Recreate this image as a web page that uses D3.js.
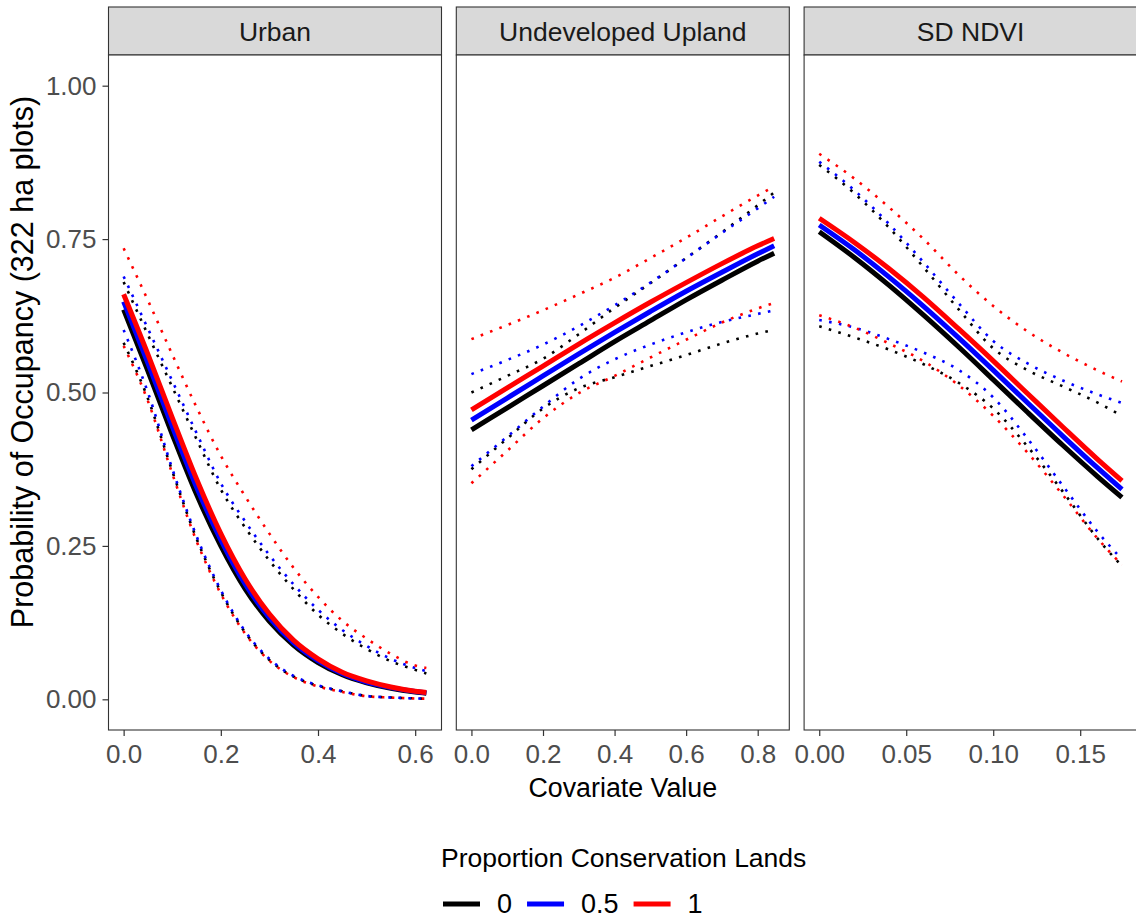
<!DOCTYPE html>
<html>
<head>
<meta charset="utf-8">
<script src="https://cdn.jsdelivr.net/npm/d3@7/dist/d3.min.js"></script>
<style>
  body { margin: 0; background: #ffffff; }
  svg { display: block; font-family: "Liberation Sans", Arial, sans-serif; }
</style>
</head>
<body>
<svg id="chart" width="1136" height="919"></svg>
<script>
// ---- Predicted occupancy, by covariate and proportion of conservation lands ----
const groups = ["0", "0.5", "1"];
const groupColors = ["#000000", "#0000FF", "#FF0000"];
const panelNames = ["Urban", "Undeveloped Upland", "SD NDVI"];
const yTicks = [0, 0.25, 0.5, 0.75, 1];

// Urban
const urbanX      = [0, 0.05, 0.10, 0.15, 0.20, 0.25, 0.30, 0.35, 0.40, 0.45, 0.50, 0.55, 0.60, 0.623];
const urbanTicks  = [0, 0.2, 0.4, 0.6];
const urbanFit0   = [0.635, 0.535, 0.432, 0.334, 0.250, 0.180, 0.127, 0.088, 0.060, 0.040, 0.027, 0.018, 0.012, 0.010];
const urbanFit05  = [0.648, 0.548, 0.445, 0.346, 0.260, 0.188, 0.133, 0.092, 0.063, 0.042, 0.028, 0.019, 0.0126, 0.0105];
const urbanFit1   = [0.660, 0.562, 0.459, 0.359, 0.270, 0.196, 0.139, 0.096, 0.066, 0.044, 0.030, 0.020, 0.013, 0.011];
const urbanLo0    = [0.581, 0.490, 0.372, 0.262, 0.175, 0.109, 0.064, 0.037, 0.022, 0.013, 0.0054, 0.003, 0.0015, 0.001];
const urbanLo05   = [0.602, 0.500, 0.376, 0.266, 0.178, 0.111, 0.066, 0.038, 0.023, 0.013, 0.0055, 0.003, 0.0015, 0.001];
const urbanLo1    = [0.576, 0.486, 0.368, 0.258, 0.172, 0.107, 0.063, 0.036, 0.021, 0.012, 0.005, 0.0028, 0.0014, 0.001];
const urbanHi0    = [0.680, 0.594, 0.509, 0.424, 0.342, 0.280, 0.226, 0.179, 0.138, 0.107, 0.082, 0.062, 0.048, 0.042];
const urbanHi05   = [0.689, 0.604, 0.519, 0.434, 0.352, 0.290, 0.235, 0.187, 0.146, 0.113, 0.087, 0.066, 0.051, 0.046];
const urbanHi1    = [0.735, 0.650, 0.562, 0.476, 0.397, 0.331, 0.270, 0.214, 0.167, 0.128, 0.099, 0.074, 0.055, 0.051];

// Undeveloped Upland
const uplandX     = [0, 0.1, 0.2, 0.3, 0.4, 0.5, 0.6, 0.7, 0.8, 0.846];
const uplandTicks = [0, 0.2, 0.4, 0.6, 0.8];
const uplandFit0  = [0.439, 0.475, 0.511, 0.547, 0.583, 0.617, 0.651, 0.683, 0.714, 0.727];
const uplandFit05 = [0.455, 0.491, 0.527, 0.563, 0.598, 0.632, 0.665, 0.696, 0.726, 0.739];
const uplandFit1  = [0.4715, 0.5075, 0.543, 0.579, 0.6135, 0.647, 0.679, 0.710, 0.739, 0.751];
const uplandLo0   = [0.375, 0.425, 0.474, 0.507, 0.525, 0.543, 0.561, 0.580, 0.596, 0.602];
const uplandLo05  = [0.380, 0.428, 0.477, 0.522, 0.554, 0.578, 0.598, 0.615, 0.628, 0.634];
const uplandLo1   = [0.352, 0.405, 0.458, 0.499, 0.527, 0.557, 0.586, 0.614, 0.637, 0.646];
const uplandHi0   = [0.500, 0.527, 0.555, 0.595, 0.638, 0.678, 0.719, 0.761, 0.805, 0.826];
const uplandHi05  = [0.530, 0.553, 0.578, 0.608, 0.642, 0.679, 0.719, 0.760, 0.800, 0.819];
const uplandHi1   = [0.587, 0.610, 0.634, 0.660, 0.687, 0.719, 0.752, 0.787, 0.821, 0.836];

// SD NDVI
const ndviX       = [0, 0.02, 0.04, 0.06, 0.08, 0.10, 0.12, 0.14, 0.16, 0.174];
const ndviTicks   = [0, 0.05, 0.10, 0.15];
const ndviFit0    = [0.762, 0.7205, 0.675, 0.626, 0.5745, 0.521, 0.467, 0.414, 0.363, 0.329];
const ndviFit05   = [0.773, 0.733, 0.6885, 0.6405, 0.5895, 0.5365, 0.4825, 0.429, 0.377, 0.342];
const ndviFit1    = [0.784, 0.745, 0.702, 0.655, 0.604, 0.5516, 0.4975, 0.4437, 0.391, 0.356];
const ndviLo0     = [0.608, 0.590, 0.570, 0.546, 0.516, 0.474, 0.411, 0.3385, 0.262, 0.217];
const ndviLo05    = [0.618, 0.606, 0.587, 0.565, 0.537, 0.492, 0.424, 0.348, 0.273, 0.228];
const ndviLo1     = [0.626, 0.606, 0.580, 0.551, 0.512, 0.462, 0.401, 0.333, 0.262, 0.219];
const ndviHi0     = [0.871, 0.825, 0.769, 0.704, 0.636, 0.572, 0.536, 0.510, 0.4835, 0.462];
const ndviHi05    = [0.876, 0.830, 0.775, 0.712, 0.646, 0.584, 0.547, 0.5196, 0.497, 0.483];
const ndviHi1     = [0.889, 0.849, 0.802, 0.750, 0.692, 0.641, 0.599, 0.565, 0.536, 0.518];

// Panel table assembled from the arrays above
const panels = [
  { name: panelNames[0], x: urbanX, ticks: urbanTicks, fmt: d3.format(".1f"),
    fit: [urbanFit0, urbanFit05, urbanFit1], lo: [urbanLo0, urbanLo05, urbanLo1], hi: [urbanHi0, urbanHi05, urbanHi1] },
  { name: panelNames[1], x: uplandX, ticks: uplandTicks, fmt: d3.format(".1f"),
    fit: [uplandFit0, uplandFit05, uplandFit1], lo: [uplandLo0, uplandLo05, uplandLo1], hi: [uplandHi0, uplandHi05, uplandHi1] },
  { name: panelNames[2], x: ndviX, ticks: ndviTicks, fmt: d3.format(".2f"),
    fit: [ndviFit0, ndviFit05, ndviFit1], lo: [ndviLo0, ndviLo05, ndviLo1], hi: [ndviHi0, ndviHi05, ndviHi1] }
];

// ---- Layout ----
const svg = d3.select("#chart");
const stripTop = 7, panelTop = 55, panelBottom = 730;
const panelLeft = 108.5, panelW = 333, panelGap = 14.8;
const frame = "#333333";
const tickFont = 26, titleFont = 26.8, stripFont = 26.5;

const y = d3.scaleLinear().domain([-0.05, 1.05]).range([panelBottom, panelTop]);

panels.forEach((p, i) => {
  const left = panelLeft + i * (panelW + panelGap);
  const xMax = d3.max(p.x), xMin = d3.min(p.x);
  const pad = (xMax - xMin) * 0.05;
  const x = d3.scaleLinear().domain([xMin - pad, xMax + pad]).range([left, left + panelW]);

  const g = svg.append("g");

  // strip
  g.append("rect")
    .attr("x", left).attr("y", stripTop)
    .attr("width", panelW).attr("height", panelTop - stripTop)
    .attr("fill", "#D9D9D9").attr("stroke", frame).attr("stroke-width", 1.1);
  g.append("text")
    .attr("x", left + panelW / 2).attr("y", (stripTop + panelTop) / 2 + 1)
    .attr("text-anchor", "middle").attr("dominant-baseline", "central")
    .attr("font-size", stripFont).attr("fill", "#1A1A1A")
    .text(p.name);

  // panel background
  g.append("rect")
    .attr("x", left).attr("y", panelTop)
    .attr("width", panelW).attr("height", panelBottom - panelTop)
    .attr("fill", "#FFFFFF");

  // curves: dotted intervals, then fitted means
  const lineFn = d3.line().x((d, k) => x(p.x[k])).y(d => y(d)).curve(d3.curveMonotoneX);
  const curves = g.append("g");
  groups.forEach((grp, k) => {
    [p.lo[k], p.hi[k]].forEach(vals => {
      curves.append("path")
        .attr("d", lineFn(vals))
        .attr("fill", "none")
        .attr("stroke", groupColors[k])
        .attr("stroke-width", 2.6)
        .attr("stroke-dasharray", "2.6,7.4");
    });
  });
  groups.forEach((grp, k) => {
    curves.append("path")
      .attr("d", lineFn(p.fit[k]))
      .attr("fill", "none")
      .attr("stroke", groupColors[k])
      .attr("stroke-width", 5);
  });

  // panel border
  g.append("rect")
    .attr("x", left).attr("y", panelTop)
    .attr("width", panelW).attr("height", panelBottom - panelTop)
    .attr("fill", "none").attr("stroke", frame).attr("stroke-width", 1.1);

  // x axis
  const xAxis = g.append("g")
    .attr("transform", `translate(0,${panelBottom})`)
    .call(d3.axisBottom(x).tickValues(p.ticks).tickFormat(p.fmt).tickSize(6).tickPadding(9).tickSizeOuter(0));
  xAxis.select(".domain").remove();
  xAxis.selectAll(".tick line").attr("stroke", frame).attr("stroke-width", 1.2);
  xAxis.selectAll(".tick text").attr("fill", "#4D4D4D").attr("font-size", tickFont)
    .attr("font-family", '"Liberation Sans", Arial, sans-serif');

  // y axis on the first panel only
  if (i === 0) {
    const yAxis = g.append("g")
      .attr("transform", `translate(${left},0)`)
      .call(d3.axisLeft(y).tickValues(yTicks).tickFormat(d3.format(".2f")).tickSize(6).tickPadding(6).tickSizeOuter(0));
    yAxis.select(".domain").remove();
    yAxis.selectAll(".tick line").attr("stroke", frame).attr("stroke-width", 1.2);
    yAxis.selectAll(".tick text").attr("fill", "#4D4D4D").attr("font-size", tickFont)
      .attr("font-family", '"Liberation Sans", Arial, sans-serif');
  }
});

// axis titles
const plotCenterX = panelLeft + (3 * panelW + 2 * panelGap) / 2;
svg.append("text")
  .attr("x", plotCenterX).attr("y", 797)
  .attr("text-anchor", "middle").attr("font-size", titleFont).attr("fill", "#000")
  .text("Covariate Value");
svg.append("text")
  .attr("transform", `translate(22,362) rotate(-90)`)
  .attr("text-anchor", "middle").attr("dominant-baseline", "central")
  .attr("font-size", 30.5).attr("fill", "#000")
  .text("Probability of Occupancy (322 ha plots)");

// legend
const legend = svg.append("g");
legend.append("text")
  .attr("x", 441).attr("y", 867)
  .attr("font-size", 26.5).attr("fill", "#000")
  .text("Proportion Conservation Lands");
let lx = 443;
const ly = 904;
groups.forEach((grp, k) => {
  legend.append("line")
    .attr("x1", lx).attr("x2", lx + 37).attr("y1", ly).attr("y2", ly)
    .attr("stroke", groupColors[k]).attr("stroke-width", 5);
  const t = legend.append("text")
    .attr("x", lx + 54).attr("y", 913)
    .attr("font-size", 27).attr("fill", "#000")
    .text(grp);
  lx += 54 + t.node().getComputedTextLength() + 15;
});
</script>
</body>
</html>
